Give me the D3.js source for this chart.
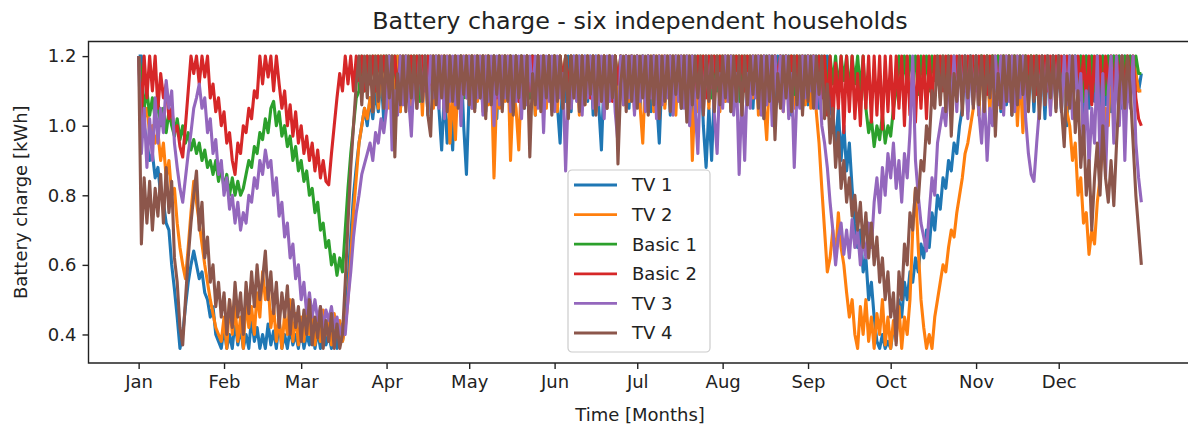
<!DOCTYPE html>
<html>
<head>
<meta charset="utf-8">
<script src="https://cdn.jsdelivr.net/npm/d3@7"></script>
<style>
  html, body { margin: 0; padding: 0; background: #fff; }
  svg { display: block; font-family: "DejaVu Sans", sans-serif; }
</style>
</head>
<body>
<div id="chart"></div>
<script>
// daily battery charge readings for 2019 (kWh), one row per month
const year = 2019;

const tv1 = [
  [1.2, 1.2, 1.0, 0.95, 0.9, 0.92, 0.85, 0.88, 0.8, 0.78, 0.72, 0.7, 0.6, 0.53, 0.45, 0.36, 0.4, 0.48, 0.55, 0.6, 0.64, 0.6, 0.56, 0.58, 0.52, 0.5, 0.45, 0.48, 0.4, 0.38, 0.36],
  [0.42, 0.36, 0.4, 0.36, 0.44, 0.37, 0.42, 0.36, 0.4, 0.36, 0.45, 0.38, 0.42, 0.36, 0.4, 0.36, 0.43, 0.37, 0.41, 0.36, 0.44, 0.36, 0.4, 0.36, 0.42, 0.37, 0.4, 0.36],
  [0.42, 0.36, 0.4, 0.37, 0.44, 0.36, 0.41, 0.36, 0.43, 0.37, 0.4, 0.36, 0.42, 0.36, 0.4, 0.38, 0.45, 0.55, 0.68, 0.8, 0.88, 0.95, 1.0, 1.05, 1.0, 1.08, 1.02, 1.1, 1.04, 1.15, 1.01],
  [1.2, 1.06, 1.2, 1.08, 1.2, 1.04, 1.2, 1.07, 1.2, 1.05, 1.2, 1.08, 1.2, 1.06, 1.2, 1.03, 1.2, 1.07, 1.2, 1.05, 0.93, 1.1, 0.95, 1.05, 0.93, 1.15, 1.06, 1.2, 1.0, 0.86],
  [1.1, 1.2, 1.05, 1.2, 1.08, 1.2, 1.04, 1.2, 1.07, 1.2, 1.02, 1.2, 1.06, 1.2, 1.08, 1.2, 1.04, 1.2, 1.07, 1.2, 1.05, 1.2, 1.08, 1.2, 1.03, 1.2, 1.06, 1.2, 1.08, 1.2, 1.05],
  [1.2, 1.06, 0.95, 1.15, 1.07, 1.2, 1.04, 1.2, 1.08, 1.2, 1.05, 1.2, 1.07, 1.2, 1.03, 1.2, 1.06, 0.93, 1.15, 1.05, 1.2, 1.08, 1.2, 1.04, 1.2, 1.07, 1.2, 1.05, 1.2, 1.08],
  [1.2, 1.05, 1.2, 1.07, 1.2, 1.04, 1.2, 1.08, 0.95, 1.15, 1.06, 1.2, 1.03, 1.2, 1.07, 1.2, 1.05, 1.2, 1.08, 1.2, 1.04, 1.2, 1.06, 1.2, 1.0, 0.88, 1.05, 0.9, 1.1, 1.2, 1.06],
  [1.2, 1.07, 1.2, 1.04, 1.2, 1.08, 1.2, 1.03, 1.2, 1.06, 1.2, 1.05, 1.2, 1.08, 1.2, 1.02, 1.2, 1.07, 1.2, 1.04, 1.2, 1.06, 1.2, 1.08, 1.2, 1.03, 1.2, 1.07, 1.2, 1.05, 1.2],
  [1.06, 1.2, 1.08, 1.2, 1.05, 1.2, 1.07, 1.2, 1.05, 1.02, 0.95, 1.05, 0.9, 1.0, 0.87, 0.95, 0.82, 0.72, 0.65, 0.7, 0.58, 0.62, 0.5, 0.55, 0.45, 0.38, 0.36, 0.4, 0.36, 0.38],
  [0.36, 0.42, 0.4, 0.5, 0.45, 0.55, 0.5, 0.58, 0.55, 0.62, 0.58, 0.66, 0.62, 0.7, 0.65, 0.75, 0.7, 0.8, 0.76, 0.85, 0.82, 0.9, 0.87, 0.95, 0.92, 1.0, 1.05, 1.2, 1.04, 1.2, 1.06],
  [1.2, 1.03, 1.2, 1.07, 1.2, 1.05, 1.2, 1.08, 1.2, 1.04, 1.2, 1.06, 1.2, 1.03, 1.2, 1.07, 1.2, 1.05, 1.2, 1.08, 1.2, 1.04, 1.2, 1.06, 1.2, 1.02, 1.2, 1.07, 1.2, 1.05],
  [1.2, 1.04, 1.2, 1.0, 1.2, 1.06, 1.2, 1.08, 1.2, 1.02, 1.2, 1.05, 1.2, 1.07, 1.2, 1.03, 1.2, 1.06, 1.2, 1.04, 1.2, 1.08, 1.2, 1.05, 1.2, 1.07, 1.2, 1.1, 1.15, 1.1, 1.15],
];

const tv2 = [
  [1.2, 1.1, 1.02, 1.05, 0.98, 1.0, 0.95, 0.98, 0.9, 0.95, 0.85, 0.9, 0.8, 0.82, 0.72, 0.65, 0.6, 0.56, 0.65, 0.75, 0.84, 0.78, 0.72, 0.66, 0.6, 0.55, 0.5, 0.46, 0.42, 0.4, 0.38],
  [0.45, 0.36, 0.5, 0.4, 0.48, 0.38, 0.45, 0.36, 0.5, 0.42, 0.48, 0.4, 0.52, 0.45, 0.58, 0.5, 0.55, 0.42, 0.48, 0.38, 0.45, 0.36, 0.46, 0.4, 0.5, 0.38, 0.46, 0.37],
  [0.45, 0.38, 0.48, 0.4, 0.46, 0.37, 0.44, 0.38, 0.47, 0.4, 0.45, 0.37, 0.46, 0.4, 0.44, 0.38, 0.42, 0.5, 0.62, 0.75, 0.85, 0.95, 1.0, 1.05, 1.02, 1.08, 1.04, 1.2, 1.05, 1.2, 1.06],
  [1.2, 1.05, 1.2, 1.08, 1.2, 1.04, 1.2, 1.07, 1.2, 1.06, 1.2, 1.08, 1.2, 1.03, 1.2, 1.07, 1.2, 1.05, 1.2, 1.08, 1.2, 1.04, 1.2, 0.95, 1.1, 0.96, 1.15, 1.06, 1.2, 1.08],
  [1.2, 1.05, 1.2, 1.07, 1.2, 1.04, 1.2, 1.06, 1.15, 0.85, 1.1, 1.05, 1.2, 1.07, 1.2, 0.9, 1.1, 1.05, 0.93, 1.15, 1.06, 1.2, 1.08, 1.2, 1.03, 1.2, 1.07, 1.2, 1.05, 1.2, 1.08],
  [1.2, 1.04, 1.2, 1.07, 1.2, 1.05, 1.2, 1.08, 1.2, 1.03, 1.2, 1.06, 1.2, 1.08, 1.2, 1.04, 1.2, 1.07, 1.2, 1.05, 1.2, 1.08, 1.2, 1.02, 1.2, 1.06, 1.2, 1.07, 1.2, 1.04],
  [1.2, 1.06, 0.95, 1.15, 1.07, 1.2, 1.04, 1.2, 1.08, 1.2, 1.05, 1.2, 1.07, 1.2, 1.03, 1.2, 1.06, 1.2, 1.08, 1.2, 0.9, 1.1, 1.04, 1.2, 1.07, 1.2, 1.05, 1.2, 1.08, 1.2, 1.04],
  [1.2, 1.07, 1.2, 1.05, 1.2, 1.08, 1.2, 1.04, 1.2, 1.06, 1.2, 1.08, 1.2, 1.03, 1.2, 1.07, 0.96, 1.15, 1.05, 1.2, 1.08, 1.2, 1.04, 1.2, 1.07, 1.2, 1.05, 1.2, 1.08, 1.2, 1.06],
  [1.2, 1.05, 1.2, 1.04, 0.95, 0.82, 0.7, 0.58, 0.62, 0.7, 0.62, 0.75, 0.65, 0.6, 0.52, 0.45, 0.5, 0.4, 0.36, 0.48, 0.4, 0.5, 0.38, 0.45, 0.36, 0.46, 0.4, 0.5, 0.37, 0.45],
  [0.36, 0.44, 0.38, 0.48, 0.36, 0.45, 0.4, 0.5, 0.7, 0.82, 0.65, 0.5, 0.42, 0.36, 0.4, 0.36, 0.45, 0.5, 0.55, 0.6, 0.58, 0.65, 0.7, 0.68, 0.75, 0.8, 0.85, 0.92, 0.95, 1.0, 1.05],
  [1.2, 1.03, 1.2, 1.06, 1.2, 1.04, 1.2, 1.07, 1.2, 1.05, 1.2, 1.08, 1.2, 1.04, 1.2, 1.0, 1.15, 0.98, 1.2, 1.06, 1.2, 1.08, 1.2, 1.04, 1.2, 1.07, 1.2, 1.05, 1.2, 1.08],
  [1.2, 1.05, 1.2, 1.04, 1.0, 0.9, 0.95, 0.8, 0.85, 0.72, 0.75, 0.63, 0.7, 0.66, 0.78, 0.85, 0.95, 1.05, 1.0, 1.2, 1.08, 1.2, 1.1, 1.2, 1.05, 1.2, 1.12, 1.2, 1.15, 1.1, 1.1],
];

const basic1 = [
  [1.2, 1.15, 1.05, 1.1, 1.03, 1.08, 1.02, 1.07, 1.0, 1.05, 0.98, 1.04, 1.0, 0.97, 1.02, 0.96, 1.0, 0.95, 0.98, 0.93, 0.96, 0.92, 0.95, 0.9, 0.93, 0.88, 0.9, 0.86, 0.9, 0.84, 0.88],
  [0.82, 0.86, 0.8, 0.85, 0.8, 0.84, 0.8, 0.82, 0.86, 0.9, 0.88, 0.94, 0.92, 0.98, 0.96, 1.02, 0.98, 1.05, 1.07, 1.0, 1.04, 0.97, 1.0, 0.94, 0.97, 0.9, 0.94, 0.87],
  [0.9, 0.84, 0.87, 0.8, 0.82, 0.75, 0.78, 0.7, 0.72, 0.65, 0.67, 0.6, 0.63, 0.57, 0.62, 0.58, 0.7, 0.82, 0.92, 1.0, 1.08, 1.1, 1.2, 1.1, 1.2, 1.12, 1.2, 1.1, 1.2, 1.14, 1.2],
  [1.1, 1.2, 1.12, 1.2, 1.08, 1.2, 1.11, 1.2, 1.09, 1.2, 1.12, 1.2, 1.07, 1.2, 1.1, 1.2, 1.13, 1.2, 1.08, 1.2, 1.11, 1.2, 1.06, 1.2, 1.1, 1.2, 1.12, 1.2, 1.08, 1.2],
  [1.11, 1.2, 1.08, 1.2, 1.12, 1.2, 1.07, 1.2, 1.1, 1.2, 1.13, 1.2, 1.09, 1.2, 1.11, 1.2, 1.06, 1.2, 1.1, 1.2, 1.12, 1.2, 1.08, 1.2, 1.11, 1.2, 1.09, 1.2, 1.13, 1.2, 1.1],
  [1.2, 1.08, 1.2, 1.11, 1.2, 1.07, 1.2, 1.12, 1.2, 1.09, 1.2, 1.1, 1.2, 1.13, 1.2, 1.08, 1.2, 1.11, 1.2, 1.06, 1.2, 1.1, 1.2, 1.12, 1.2, 1.09, 1.2, 1.11, 1.2, 1.08],
  [1.2, 1.12, 1.2, 1.09, 1.2, 1.11, 1.2, 1.07, 1.2, 1.1, 1.2, 1.13, 1.2, 1.08, 1.2, 1.11, 1.2, 1.06, 1.2, 1.1, 1.2, 1.12, 1.2, 1.09, 1.2, 1.11, 1.2, 1.08, 1.2, 1.1, 1.2],
  [1.12, 1.2, 1.08, 1.2, 1.11, 1.2, 1.07, 1.2, 1.1, 1.2, 1.13, 1.2, 1.09, 1.2, 1.11, 1.2, 1.08, 1.2, 1.1, 1.2, 1.12, 1.2, 1.07, 1.2, 1.11, 1.2, 1.09, 1.2, 1.12, 1.2, 1.1],
  [1.2, 1.12, 1.2, 1.1, 1.2, 1.14, 1.2, 1.08, 1.2, 1.12, 1.2, 1.1, 1.2, 1.13, 1.2, 1.09, 1.2, 1.12, 1.2, 1.1, 1.2, 1.05, 0.98, 1.02, 0.94, 1.0, 0.96, 1.03, 0.95, 1.0],
  [0.97, 1.05, 1.1, 1.2, 1.12, 1.2, 1.1, 1.2, 1.14, 1.2, 1.09, 1.2, 1.12, 1.2, 1.1, 1.2, 1.13, 1.2, 1.08, 1.2, 1.12, 1.2, 1.1, 1.2, 1.14, 1.2, 1.09, 1.2, 1.12, 1.2, 1.1],
  [1.2, 1.12, 1.2, 1.09, 1.2, 1.13, 1.2, 1.1, 1.2, 1.12, 1.2, 1.08, 1.2, 1.11, 1.2, 1.13, 1.2, 1.09, 1.2, 1.12, 1.2, 1.1, 1.2, 1.14, 1.2, 1.08, 1.2, 1.12, 1.2, 1.1],
  [1.2, 1.12, 1.2, 1.09, 1.2, 1.13, 1.2, 1.1, 1.2, 1.07, 1.2, 1.12, 1.2, 1.1, 1.2, 1.13, 1.2, 1.09, 1.2, 1.12, 1.2, 1.1, 1.2, 1.14, 1.2, 1.12, 1.2, 1.15, 1.2, 1.15, 1.15],
];

const basic2 = [
  [1.2, 1.02, 1.2, 1.08, 1.2, 1.1, 1.2, 1.05, 1.15, 1.08, 1.12, 1.02, 1.05, 0.98, 1.0, 0.94, 0.91, 1.0, 1.1, 1.2, 1.15, 1.2, 1.12, 1.2, 1.14, 1.2, 1.08, 1.12, 1.04, 1.08, 1.0],
  [1.04, 0.95, 0.98, 0.9, 0.86, 0.95, 0.92, 1.0, 0.98, 1.05, 1.02, 1.1, 1.08, 1.2, 1.12, 1.2, 1.14, 1.2, 1.1, 1.2, 1.12, 1.05, 1.1, 1.0, 1.06, 0.97, 1.04, 0.95],
  [1.0, 0.92, 0.97, 0.9, 0.95, 0.87, 0.93, 0.85, 0.9, 0.84, 0.83, 0.92, 1.0, 1.08, 1.15, 1.1, 1.2, 1.12, 1.2, 1.1, 1.2, 1.13, 1.2, 1.1, 1.2, 1.12, 1.2, 1.1, 1.2, 1.14, 1.2],
  [1.1, 1.2, 1.13, 1.2, 1.09, 1.2, 1.12, 1.2, 1.07, 1.2, 1.11, 1.2, 1.14, 1.2, 1.1, 1.2, 1.12, 1.2, 1.08, 1.2, 1.13, 1.2, 1.1, 1.2, 1.12, 1.2, 1.09, 1.2, 1.13, 1.2],
  [1.11, 1.2, 1.09, 1.2, 1.13, 1.2, 1.1, 1.2, 1.12, 1.2, 1.08, 1.2, 1.11, 1.2, 1.14, 1.2, 1.1, 1.2, 1.07, 1.2, 1.12, 1.2, 1.1, 1.2, 1.13, 1.2, 1.09, 1.2, 1.11, 1.2, 1.12],
  [1.2, 1.1, 1.2, 1.13, 1.2, 1.09, 1.2, 1.12, 1.2, 1.1, 1.2, 1.14, 1.2, 1.08, 1.2, 1.11, 1.2, 1.13, 1.2, 1.1, 1.2, 1.07, 1.2, 1.12, 1.2, 1.1, 1.2, 1.13, 1.2, 1.09],
  [1.2, 1.11, 1.2, 1.13, 1.2, 1.1, 1.2, 1.08, 1.2, 1.12, 1.2, 1.1, 1.2, 1.14, 1.2, 1.09, 1.2, 1.11, 1.2, 1.13, 1.2, 1.1, 1.2, 1.12, 1.2, 1.08, 1.2, 1.11, 1.2, 1.13, 1.2],
  [1.1, 1.2, 1.12, 1.2, 1.09, 1.2, 1.13, 1.2, 1.1, 1.2, 1.11, 1.2, 1.14, 1.2, 1.08, 1.2, 1.12, 1.2, 1.1, 1.2, 1.13, 1.2, 1.09, 1.2, 1.11, 1.2, 1.12, 1.2, 1.1, 1.2, 1.13],
  [1.2, 1.12, 1.2, 1.1, 1.2, 1.08, 1.2, 1.03, 1.2, 1.0, 1.18, 1.05, 1.2, 0.98, 1.2, 1.04, 1.2, 1.02, 1.15, 1.0, 1.2, 1.05, 1.2, 1.01, 1.2, 1.03, 1.2, 0.99, 1.2, 1.04],
  [1.2, 1.02, 1.2, 1.05, 1.2, 1.0, 1.2, 1.03, 1.18, 1.01, 1.2, 1.05, 1.2, 1.02, 1.2, 1.06, 1.2, 1.12, 1.2, 1.1, 1.2, 1.13, 1.2, 1.09, 1.2, 1.12, 1.2, 1.1, 1.2, 1.14, 1.2],
  [1.1, 1.2, 1.12, 1.2, 1.09, 1.2, 1.13, 1.2, 1.1, 1.2, 1.12, 1.2, 1.08, 1.2, 1.11, 1.2, 1.13, 1.2, 1.1, 1.2, 1.12, 1.2, 1.09, 1.2, 1.13, 1.2, 1.1, 1.2, 1.12, 1.2],
  [1.11, 1.2, 1.13, 1.2, 1.1, 1.2, 1.12, 1.2, 1.1, 1.2, 1.07, 1.2, 1.06, 1.2, 1.08, 1.2, 1.07, 1.2, 1.12, 1.2, 1.1, 1.2, 1.13, 1.2, 1.1, 1.2, 1.12, 1.2, 1.08, 1.02, 1.0],
];

const tv3 = [
  [1.2, 0.92, 1.05, 0.88, 1.02, 0.9, 1.08, 0.95, 1.05, 0.98, 1.13, 1.05, 1.1, 0.95, 0.88, 0.82, 0.78, 0.85, 0.92, 0.98, 1.05, 1.08, 1.12, 1.05, 1.08, 0.98, 1.02, 0.92, 0.96, 0.86, 0.9],
  [0.8, 0.85, 0.76, 0.8, 0.72, 0.78, 0.7, 0.75, 0.72, 0.8, 0.78, 0.85, 0.82, 0.9, 0.86, 0.93, 0.88, 0.9, 0.8, 0.85, 0.74, 0.78, 0.68, 0.72, 0.62, 0.66, 0.56, 0.6],
  [0.5, 0.55, 0.46, 0.52, 0.45, 0.5, 0.44, 0.48, 0.42, 0.47, 0.44, 0.48, 0.42, 0.45, 0.4, 0.43, 0.4, 0.5, 0.58, 0.68, 0.75, 0.8, 0.86, 0.89, 0.92, 0.95, 0.9, 0.98, 0.95, 1.02, 0.98],
  [1.05, 1.2, 0.93, 1.1, 1.03, 1.2, 1.06, 1.2, 1.08, 0.97, 1.15, 1.05, 1.2, 1.07, 1.2, 1.04, 1.2, 1.08, 1.2, 1.05, 1.2, 1.02, 1.2, 1.07, 1.2, 1.06, 1.2, 1.0, 1.2, 1.08],
  [1.2, 1.05, 1.2, 1.08, 1.2, 1.03, 1.2, 1.07, 1.2, 1.0, 1.2, 1.06, 1.2, 1.08, 1.2, 1.04, 1.2, 1.07, 1.2, 1.02, 1.2, 1.06, 1.2, 1.08, 1.2, 1.05, 1.2, 0.98, 1.2, 1.07, 1.2],
  [1.04, 1.2, 1.08, 1.15, 0.87, 1.1, 1.05, 1.2, 1.07, 1.2, 1.03, 1.2, 1.08, 1.2, 1.05, 1.2, 1.06, 1.2, 1.02, 1.2, 1.07, 1.2, 1.04, 0.95, 1.2, 1.06, 1.2, 1.08, 1.2, 1.03],
  [1.2, 1.07, 1.2, 1.04, 1.2, 1.08, 1.2, 1.02, 1.2, 1.06, 1.2, 1.08, 1.2, 1.03, 1.2, 1.07, 1.2, 1.05, 1.2, 1.0, 1.2, 1.06, 0.92, 1.15, 1.04, 1.2, 1.08, 1.2, 1.03, 0.92, 1.15],
  [1.05, 1.2, 1.07, 1.2, 1.03, 1.15, 0.86, 1.1, 0.9, 1.15, 1.05, 1.2, 1.08, 1.2, 1.03, 1.2, 1.06, 1.2, 1.0, 1.2, 1.07, 1.2, 1.04, 1.2, 1.02, 1.15, 0.88, 1.1, 1.05, 1.2, 1.08],
  [1.2, 1.1, 1.2, 1.05, 1.15, 1.0, 0.95, 0.88, 0.78, 0.7, 0.6, 0.68, 0.72, 0.63, 0.7, 0.62, 0.73, 0.65, 0.7, 0.6, 0.68, 0.62, 0.72, 0.65, 0.78, 0.85, 0.75, 0.88, 0.8, 0.92],
  [0.85, 0.95, 0.82, 0.9, 0.78, 0.92, 0.85, 0.98, 1.2, 0.9, 0.8, 0.72, 0.68, 0.64, 0.75, 0.85, 0.8, 0.95, 1.0, 1.05, 1.0, 1.12, 1.05, 1.2, 1.04, 1.2, 1.07, 1.2, 1.02, 1.2, 1.06],
  [1.2, 1.04, 0.95, 1.1, 0.9, 1.05, 1.0, 1.2, 1.06, 1.2, 1.03, 1.2, 1.07, 1.2, 1.04, 1.2, 1.08, 1.2, 1.02, 0.92, 0.86, 0.84, 0.95, 1.05, 1.2, 1.06, 1.2, 1.03, 1.2, 1.07],
  [1.2, 1.04, 1.2, 1.06, 1.2, 1.02, 1.2, 1.05, 1.15, 0.92, 1.1, 0.88, 1.05, 0.95, 1.2, 0.9, 1.15, 0.85, 1.1, 1.2, 0.95, 1.2, 1.0, 1.2, 0.9, 1.15, 1.05, 1.2, 0.95, 0.85, 0.78],
];

const tv4 = [
  [1.2, 0.66, 0.85, 0.72, 0.84, 0.7, 0.82, 0.74, 0.86, 0.72, 0.88, 0.75, 0.84, 0.62, 0.55, 0.42, 0.37, 0.5, 0.62, 0.72, 0.8, 0.87, 0.7, 0.78, 0.62, 0.68, 0.55, 0.6, 0.48, 0.55, 0.45],
  [0.52, 0.4, 0.5, 0.42, 0.55, 0.45, 0.52, 0.4, 0.55, 0.46, 0.58, 0.48, 0.6, 0.5, 0.56, 0.64, 0.5, 0.58, 0.46, 0.55, 0.42, 0.52, 0.45, 0.54, 0.4, 0.5, 0.42, 0.48],
  [0.38, 0.47, 0.4, 0.5, 0.37, 0.45, 0.39, 0.48, 0.36, 0.44, 0.38, 0.46, 0.36, 0.43, 0.36, 0.4, 0.55, 0.72, 0.88, 1.0, 1.12, 1.2, 1.06, 1.2, 1.08, 1.2, 1.04, 1.2, 1.07, 1.2, 1.05],
  [1.2, 1.08, 1.2, 0.91, 1.15, 1.06, 1.2, 1.04, 1.2, 1.08, 1.2, 1.05, 1.2, 1.07, 1.2, 1.03, 0.97, 1.2, 1.06, 1.2, 1.08, 1.2, 1.04, 1.2, 1.07, 1.2, 1.05, 1.2, 1.09, 1.2],
  [1.06, 1.2, 1.04, 1.2, 1.08, 1.2, 1.02, 1.2, 1.06, 1.2, 1.09, 1.2, 1.04, 1.2, 1.07, 1.2, 1.03, 1.2, 1.08, 1.2, 1.05, 1.2, 0.91, 1.15, 1.06, 1.2, 1.04, 1.2, 1.08, 1.2, 1.03],
  [1.2, 1.07, 1.2, 1.05, 1.2, 1.02, 1.2, 1.08, 1.2, 1.04, 1.2, 1.06, 1.2, 1.09, 1.2, 1.03, 1.2, 1.07, 1.2, 1.05, 1.2, 1.08, 1.2, 0.89, 1.12, 1.2, 1.04, 1.2, 1.07, 1.2],
  [1.05, 1.2, 1.08, 1.2, 1.03, 1.2, 1.06, 1.2, 1.02, 1.2, 1.07, 1.2, 1.04, 1.2, 1.09, 1.2, 1.05, 1.2, 1.01, 1.2, 1.06, 1.2, 1.08, 1.2, 1.03, 1.2, 1.07, 1.2, 1.04, 1.2, 1.06],
  [1.2, 1.08, 1.2, 1.04, 1.2, 1.07, 1.2, 1.03, 1.2, 1.06, 1.2, 1.09, 1.2, 1.05, 1.2, 1.02, 1.2, 1.07, 1.2, 0.96, 1.15, 1.05, 1.2, 1.08, 1.2, 1.04, 1.2, 1.06, 1.2, 1.03, 1.2],
  [1.07, 1.2, 1.05, 1.2, 1.09, 1.2, 1.02, 1.12, 0.95, 1.05, 0.88, 0.98, 0.82, 0.9, 0.78, 0.85, 0.74, 0.8, 0.7, 0.78, 0.65, 0.75, 0.62, 0.72, 0.6, 0.68, 0.55, 0.62, 0.5, 0.58],
  [0.45, 0.52, 0.37, 0.58, 0.5, 0.66, 0.6, 0.75, 0.7, 0.82, 0.78, 0.9, 0.87, 1.0, 0.95, 1.1, 1.05, 1.2, 1.06, 1.2, 1.04, 1.2, 0.97, 1.15, 1.07, 1.2, 1.03, 1.2, 1.08, 1.2, 1.05],
  [1.2, 1.06, 1.2, 1.04, 1.2, 1.08, 1.2, 0.97, 1.15, 1.05, 1.2, 1.07, 1.2, 1.03, 1.2, 1.06, 1.2, 1.09, 1.2, 1.04, 1.2, 1.07, 1.2, 1.02, 1.2, 1.06, 1.2, 1.08, 1.2, 1.04],
  [1.2, 1.05, 0.94, 1.15, 1.05, 1.2, 0.98, 1.1, 0.88, 1.0, 0.8, 0.9, 0.7, 0.85, 0.95, 0.8, 1.0, 0.85, 0.78, 0.9, 0.77, 0.95, 1.1, 1.2, 1.05, 1.2, 1.1, 0.95, 0.8, 0.7, 0.6],
];

const seriesNames = ["TV 1", "TV 2", "Basic 1", "Basic 2", "TV 3", "TV 4"];
const seriesValues = [tv1, tv2, basic1, basic2, tv3, tv4];
const colors = ["#1f77b4", "#ff7f0e", "#2ca02c", "#d62728", "#9467bd", "#8c564b"];
const yTicks = [0.4, 0.6, 0.8, 1.0, 1.2];
const monthTicks = d3.timeMonths(new Date(year, 0, 1), new Date(year, 11, 2));

const width = 1188;
const height = 429;
const margin = { top: 41.5, left: 88.5, bottom: 66 };
const plotWidth = 1103;
const plotHeight = height - margin.top - margin.bottom;

const series = seriesNames.map((name, k) => ({
  name,
  color: colors[k],
  points: seriesValues[k].flatMap((monthValues, m) =>
    monthValues.map((v, d) => ({ date: new Date(year, m, d + 1), value: v }))
  ),
}));

// matplotlib style 5% padding around the data extent
const allPoints = series.flatMap((s) => s.points);
const tExtent = d3.extent(allPoints, (p) => p.date);
const tPad = (tExtent[1] - tExtent[0]) * 0.05;
const vMin = d3.min(allPoints, (p) => p.value);
const vMax = d3.max(allPoints, (p) => p.value);
const vPad = (vMax - vMin) * 0.05;

const x = d3.scaleTime()
  .domain([new Date(+tExtent[0] - tPad), new Date(+tExtent[1] + tPad)])
  .range([0, plotWidth]);
const y = d3.scaleLinear()
  .domain([vMin - vPad, vMax + vPad])
  .range([plotHeight, 0]);

const svg = d3.select("#chart").append("svg")
  .attr("width", width)
  .attr("height", height);

svg.append("defs").append("clipPath").attr("id", "plot-clip")
  .append("rect").attr("width", plotWidth).attr("height", plotHeight);

const g = svg.append("g").attr("transform", `translate(${margin.left},${margin.top})`);

const line = d3.line()
  .x((d) => x(d.date))
  .y((d) => y(d.value));

g.append("g")
  .attr("clip-path", "url(#plot-clip)")
  .selectAll("path")
  .data(series)
  .join("path")
  .attr("fill", "none")
  .attr("stroke", (d) => d.color)
  .attr("stroke-width", 3.1)
  .attr("stroke-linejoin", "round")
  .attr("d", (d) => line(d.points));

// axes
const gx = g.append("g")
  .attr("transform", `translate(0,${plotHeight})`)
  .call(d3.axisBottom(x)
    .tickValues(monthTicks)
    .tickFormat(d3.timeFormat("%b"))
    .tickSize(6)
    .tickPadding(6));

const gy = g.append("g")
  .call(d3.axisLeft(y)
    .tickValues(yTicks)
    .tickFormat(d3.format(".1f"))
    .tickSize(6)
    .tickPadding(6));

[gx, gy].forEach((ax) => {
  ax.select(".domain").remove();
  ax.selectAll("line").attr("stroke", "#222").attr("stroke-width", 1.4);
  ax.selectAll("text")
    .attr("fill", "#222")
    .style("font-size", "18px")
    .style("font-family", "'DejaVu Sans', sans-serif");
});

// spines (left, top, bottom); the right one falls outside the picture
g.append("path")
  .attr("d", `M${plotWidth},0H0V${plotHeight}H${plotWidth}`)
  .attr("fill", "none")
  .attr("stroke", "#222")
  .attr("stroke-width", 1.4);

svg.append("text")
  .attr("x", margin.left + plotWidth / 2)
  .attr("y", 29)
  .attr("text-anchor", "middle")
  .attr("fill", "#222")
  .style("font-size", "23.8px")
  .text("Battery charge - six independent households");

svg.append("text")
  .attr("x", margin.left + plotWidth / 2)
  .attr("y", 421)
  .attr("text-anchor", "middle")
  .attr("fill", "#222")
  .style("font-size", "18px")
  .text("Time [Months]");

svg.append("text")
  .attr("transform", `translate(27,${margin.top + plotHeight / 2}) rotate(-90)`)
  .attr("text-anchor", "middle")
  .attr("fill", "#222")
  .style("font-size", "18px")
  .text("Battery charge [kWh]");

// legend
const legend = svg.append("g").attr("transform", "translate(568,170)");
legend.append("rect")
  .attr("width", 142)
  .attr("height", 182)
  .attr("rx", 4)
  .attr("fill", "white")
  .attr("fill-opacity", 0.8)
  .attr("stroke", "#cccccc")
  .attr("stroke-width", 1.2);

const items = legend.selectAll("g.item")
  .data(series)
  .join("g")
  .attr("class", "item")
  .attr("transform", (d, i) => `translate(0,${15 + i * 29.6})`);

items.append("line")
  .attr("x1", 6).attr("x2", 49)
  .attr("stroke", (d) => d.color)
  .attr("stroke-width", 2.8);

items.append("text")
  .attr("x", 64)
  .attr("dy", "0.35em")
  .attr("fill", "#222")
  .style("font-size", "18px")
  .text((d) => d.name);
</script>
</body>
</html>
